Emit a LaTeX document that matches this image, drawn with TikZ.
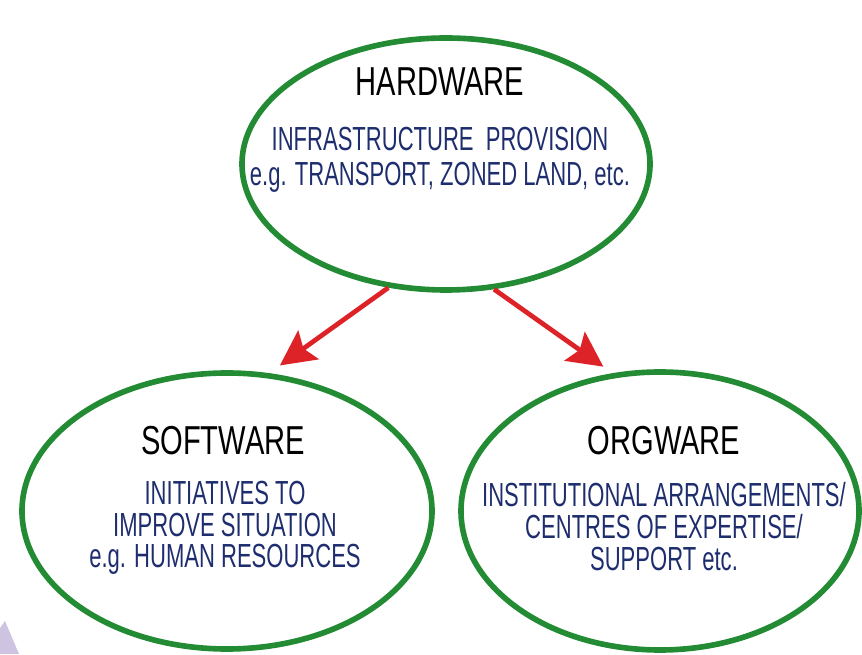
\documentclass[tikz,border=0pt]{standalone}
\usepackage{fontspec}
\setmainfont{Liberation Sans}
\newfontfamily\titlefont{Liberation Sans}[FakeStretch=0.72]
\newfontfamily\bodyfont{Liberation Sans}[FakeStretch=0.66]
\usetikzlibrary{shapes.geometric, arrows.meta}
\definecolor{ringgreen}{RGB}{34,139,52}
\definecolor{linkred}{RGB}{222,35,40}
\definecolor{bodyblue}{RGB}{30,45,110}
\definecolor{cornerlilac}{RGB}{206,196,226}

\begin{document}
\begin{tikzpicture}[
  bubble/.style={ellipse, draw=ringgreen, line width=3.2pt, inner sep=0pt},
  ware/.style={font=\titlefont\fontsize{23}{26}\selectfont, text=black},
  blurb/.style={font=\bodyfont\fontsize{19}{18}\selectfont, text=bodyblue, align=center},
  link/.style={draw=linkred, line width=2.7pt, -{Stealth[length=20pt, width=20pt, inset=3.5pt]}}
]
\useasboundingbox (0,0) rectangle (17.24,13.08);
\fill[cornerlilac] (0,0) -- (0,0.52) -- (0.1,0.66) -- (0.38,0) -- cycle;

\node[bubble, minimum width=8.16cm, minimum height=5.04cm] at (8.92,9.80) (hw) {};
\node[bubble, minimum width=8.20cm, minimum height=5.52cm] at (4.54,2.86) (sw) {};
\node[bubble, minimum width=7.96cm, minimum height=5.56cm] at (13.20,2.86) (og) {};

\node[ware] at (8.80,11.44) (hwname) {HARDWARE};
\node[blurb, font=\bodyfont\fontsize{19}{19.8}\selectfont] at (8.80,9.89) (hwtext)
  {INFRASTRUCTURE\ \ PROVISION\\e.g. TRANSPORT, ZONED LAND, etc.};
\node[ware] at (4.46,4.26) (swname) {SOFTWARE};
\node[blurb] at (4.50,2.52) (swtext)
  {INITIATIVES TO\\IMPROVE SITUATION\\e.g. HUMAN RESOURCES};
\node[ware] at (13.28,4.26) (ogname) {ORGWARE};
\node[blurb] at (13.28,2.55) (ogtext)
  {INSTITUTIONAL ARRANGEMENTS/\\CENTRES OF EXPERTISE/\\SUPPORT etc.};

\draw[link, shorten >=7.5pt] (hw.245) -- (sw.73);
\draw[link, shorten >=6.4pt] (hw.291) -- (og.109);
\end{tikzpicture}
\end{document}
